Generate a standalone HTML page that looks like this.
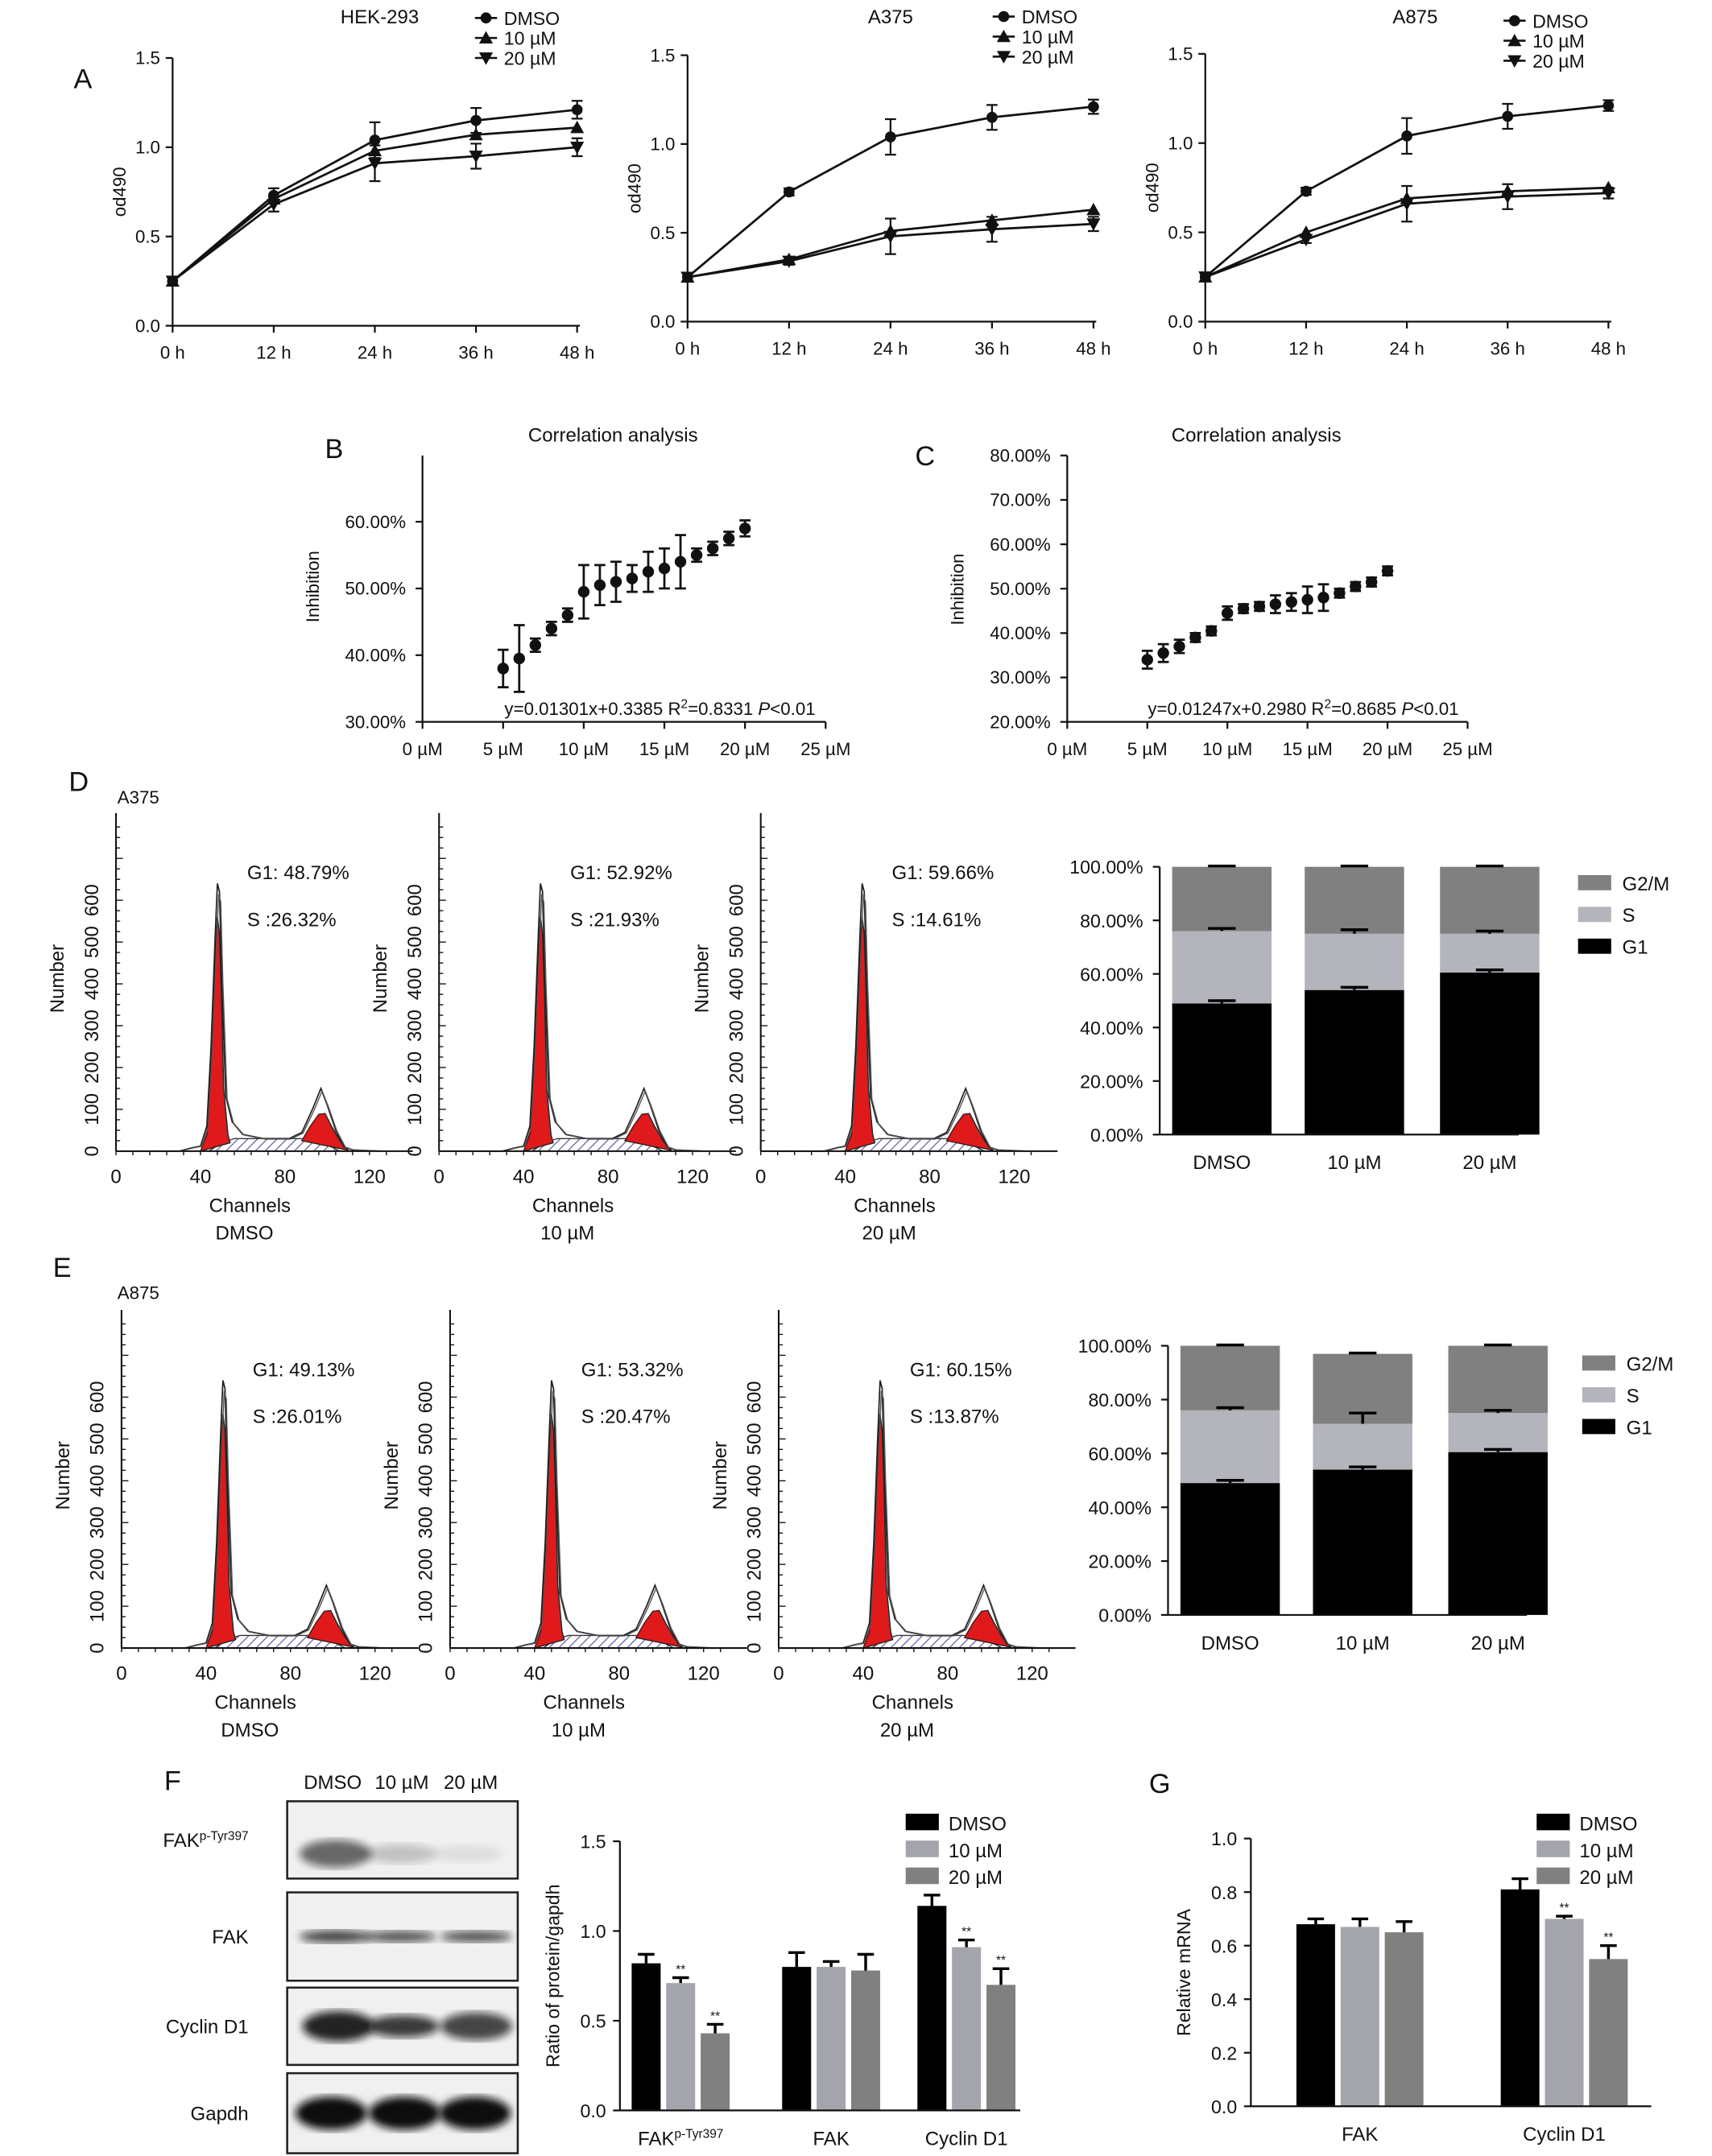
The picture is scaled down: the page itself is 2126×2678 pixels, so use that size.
<!DOCTYPE html>
<html><head><meta charset="utf-8"><style>
html,body{margin:0;padding:0;background:#fff}
svg{display:block;font-family:"Liberation Sans",Arial,sans-serif}
</style></head><body>
<svg id="fig" width="2126" height="2678" viewBox="0 0 1240 1562" xmlns="http://www.w3.org/2000/svg">
<defs>
<pattern id="hatch" width="5" height="5" patternUnits="userSpaceOnUse" patternTransform="rotate(45)"><rect width="5" height="5" fill="#fff"/><line x1="0" y1="0" x2="0" y2="5" stroke="#5a5aa8" stroke-width="1.4"/></pattern>
<filter id="blur"><feGaussianBlur stdDeviation="3"/></filter>
</defs>
</svg>
<script>
// ---------- DATA ----------
const hours = ["0 h","12 h","24 h","36 h","48 h"];
const hekDMSO=[0.25,0.73,1.04,1.15,1.21], hek10=[0.25,0.71,0.98,1.07,1.11], hek20=[0.25,0.68,0.91,0.95,1.00];
const hekErr=[0.02,0.04,0.1,0.07,0.05];
const a375DMSO=[0.25,0.73,1.04,1.15,1.21], a37510=[0.25,0.35,0.51,0.57,0.63], a37520=[0.25,0.34,0.48,0.52,0.55];
const a375Err=[0.02,0.02,0.1,0.07,0.04];
const a875DMSO=[0.25,0.73,1.04,1.15,1.21], a87510=[0.25,0.50,0.69,0.73,0.75], a87520=[0.25,0.46,0.66,0.70,0.72];
const a875Err=[0.02,0.02,0.1,0.07,0.03];
const doses=[5,6,7,8,9,10,11,12,13,14,15,16,17,18,19,20];
const inhibB=[38,39.5,41.5,44,46,49.5,50.5,51,51.5,52.5,53,54,55,56,57.5,59];
const errB=[2.8,5,1,1,1,4,3,3,2,3,3,4,1,1,1,1.2];
const inhibC=[34,35.5,37,39,40.5,44.5,45.5,46,46.5,47,47.5,48,49,50.5,51.5,54];
const errC=[2,2,1.5,1,1,1.5,1,1,2,2,3,3,1,1,1,1];
const histPts=[[0,0],[30,0],[36,8],[40,12],[43,60],[45,250],[47,520],[48,640],[49,620],[50,420],[52,130],[55,70],[60,40],[70,30],[82,30],[88,45],[93,100],[97,150],[100,110],[104,50],[108,10],[112,3],[125,0]];
const g1Red=[[40,0],[43,40],[45,220],[47,480],[48,560],[49,520],[50,360],[51,150],[53,40],[54,20]];
const g2Red=[[88,25],[92,60],[96,88],[99,90],[102,60],[106,25],[110,2]];
const sHatch=[[44,0],[50,20],[56,30],[88,30],[100,15],[106,0]];
const phases=["G1","S","G2/M"];
const treatments=["DMSO","10 µM","20 µM"];
const dG1=[49,54,60.5], dS=[27,21,14.5], dG2=[24,25,25];
const eG1=[49,54,60.5], eS=[27,17,14.5], eG2=[24,26,25];
const fGroups=["FAKp","FAK","Cyclin D1"];
const fDMSO=[0.82,0.80,1.14], f10=[0.71,0.80,0.91], f20=[0.43,0.78,0.70];
const fErrD=[0.05,0.08,0.06], fErr10=[0.03,0.03,0.04], fErr20=[0.05,0.09,0.09];
const gGroups=["FAK","Cyclin D1"];
const gDMSO=[0.68,0.81], g10=[0.67,0.70], g20=[0.65,0.55];
const gErrD=[0.02,0.04], gErr10=[0.03,0.01], gErr20=[0.04,0.05];

// ---------- helpers ----------
const svg=document.getElementById('fig');
const NS="http://www.w3.org/2000/svg";
function nm(e,n,i){
  
  
  return e;
}
function mk(tag,a,p){const e=document.createElementNS(NS,tag);for(const k in a)e.setAttribute(k,a[k]);(p||svg).appendChild(e);return e;}
function txt(x,y,s,size,anchor,extra){const e=mk('text',Object.assign({x:x,y:y,'font-size':size||13,'text-anchor':anchor||'middle',fill:'#111'},extra||{}));e.textContent=s;return e;}
function ln(x1,y1,x2,y2,w,c){return mk('line',{x1,y1,x2,y2,stroke:c||'#111','stroke-width':w||1.3});}
function marker(x,y,t,g){
  let e;
  if(t==0) e=mk('circle',{cx:x,cy:y,r:4,fill:'#111'},g);
  else if(t==1) e=mk('path',{d:`M${x},${y-5}L${x+5},${y+4}L${x-5},${y+4}Z`,fill:'#111'},g);
  else e=mk('path',{d:`M${x},${y+5}L${x+5},${y-4}L${x-5},${y-4}Z`,fill:'#111'},g);
  return e;
}
// panel letters
[['A',60,64],['B',242,332],['C',670,337],['D',57,573],['E',45,925],['F',125,1297],['G',840,1299]].forEach(p=>{const t=txt(p[1],p[2],p[0],20);nm(t,'panel-letter-'+p[0].toLowerCase());});

// ---------- Panel A ----------
function lineChart(cfg){
  const g=mk('g',{});
  nm(g,cfg.name);
  const X=i=>cfg.x0+(cfg.x1-cfg.x0)*i/4;
  const Y=v=>cfg.y0-(cfg.y0-cfg.yTop)*v/1.5;
  ln(cfg.x0,cfg.y0,cfg.x1+2,cfg.y0);ln(cfg.x0,cfg.y0,cfg.x0,cfg.yTop);
  [0,0.5,1,1.5].forEach(v=>{ln(cfg.x0-5,Y(v),cfg.x0,Y(v));const t=txt(cfg.x0-9,Y(v)+4.5,v.toFixed(1),13,'end');nm(t,'y-tick-label');});
  hours.forEach((h,i)=>{ln(X(i),cfg.y0,X(i),cfg.y0+5);const t=txt(X(i),cfg.y0+24,h,13);nm(t,'x-tick-label');});
  const yt=txt(0,0,'od490',13,'middle',{transform:`translate(${cfg.x0-34},${(cfg.y0+cfg.yTop)/2}) rotate(-90)`});nm(yt,'y-axis-title');
  const tt=txt(cfg.tx,17,cfg.title,14);nm(tt,'chart-title');
  cfg.series.forEach((s,k)=>{
    const p=mk('polyline',{points:s.map((v,i)=>X(i)+','+Y(v)).join(' '),fill:'none',stroke:'#111','stroke-width':1.6},g);
    nm(p,'line-'+['dmso','10um','20um'][k]);
    s.forEach((v,i)=>{
      if(k==0||k==cfg.series.length-1){const e=cfg.err[i];const eb=mk('path',{d:`M${X(i)},${Y(v-e)}V${Y(v+e)}M${X(i)-4},${Y(v-e)}h8M${X(i)-4},${Y(v+e)}h8`,stroke:'#111','stroke-width':1.3,fill:'none'},g);nm(eb,'error-bar');}
      const m=marker(X(i),Y(v),k,g);nm(m,'data-point');
    });
  });
  ['DMSO','10 µM','20 µM'].forEach((l,k)=>{
    const ly=cfg.ly+k*14.5;ln(cfg.lx-8,ly,cfg.lx+8,ly,1.5);const m=marker(cfg.lx,ly,k);nm(m,'legend-marker');
    const t=txt(cfg.lx+13,ly+5,l,13.5,'start');nm(t,'legend-entry');
  });
}
lineChart({name:'chart-hek293',x0:125,x1:418,y0:236,yTop:42,title:'HEK-293',tx:275,lx:352,ly:13,series:[hekDMSO,hek10,hek20],err:hekErr});
lineChart({name:'chart-a375',x0:498,x1:792,y0:233,yTop:40,title:'A375',tx:645,lx:727,ly:12,series:[a375DMSO,a37510,a37520],err:a375Err});
lineChart({name:'chart-a875',x0:873,x1:1165,y0:233,yTop:39,title:'A875',tx:1025,lx:1097,ly:15,series:[a875DMSO,a87510,a87520],err:a875Err});

// ---------- Panels B, C ----------
function corr(cfg){
  const g=mk('g',{});nm(g,cfg.name);
  const X=d=>cfg.x0+(cfg.x1-cfg.x0)*d/25;
  const Y=v=>cfg.y0-(cfg.y0-cfg.yT)*(v-cfg.ymin)/(cfg.ymax-cfg.ymin);
  ln(cfg.x0,cfg.y0,cfg.x1,cfg.y0);ln(cfg.x0,cfg.y0,cfg.x0,cfg.yAxTop);
  for(let v=cfg.ymin;v<=cfg.ymax;v+=10){ln(cfg.x0-5,Y(v),cfg.x0,Y(v));const t=txt(cfg.x0-12,Y(v)+4.5,v.toFixed(2)+'%',13,'end');nm(t,'y-tick-label');}
  for(let d=0;d<=25;d+=5){ln(X(d),cfg.y0,X(d),cfg.y0+5);const t=txt(X(d),cfg.y0+24,d+' µM',13);nm(t,'x-tick-label');}
  const yt=txt(0,0,'Inhibition',13,'middle',{transform:`translate(${cfg.x0-75},${cfg.ylabY}) rotate(-90)`});nm(yt,'y-axis-title');
  const tt=txt((cfg.x0+cfg.x1)/2-8,cfg.titleY,'Correlation analysis',14);nm(tt,'chart-title');
  const rl=mk('line',{x1:X(5),y1:Y(100*(cfg.a*5+cfg.b)),x2:X(20),y2:Y(100*(cfg.a*20+cfg.b)),stroke:'#111','stroke-width':1.6},g);nm(rl,'regression-line');
  doses.forEach((d,i)=>{const v=cfg.vals[i],e=cfg.err[i];
    const eb=mk('path',{d:`M${X(d)},${Y(v-e)}V${Y(v+e)}M${X(d)-4},${Y(v-e)}h8M${X(d)-4},${Y(v+e)}h8`,stroke:'#111','stroke-width':1.6,fill:'none'},g);nm(eb,'error-bar');
    const c=mk('circle',{cx:X(d),cy:Y(v),r:4.2,fill:'#111'},g);nm(c,'data-point');});
  const eq=mk('text',{x:cfg.eqX,y:cfg.y0-5,'font-size':13,'text-anchor':'middle',fill:'#111'});nm(eq,'regression-equation');
  eq.innerHTML=cfg.eq+' R<tspan dy="-5" font-size="9">2</tspan><tspan dy="5">='+cfg.r2+' </tspan><tspan font-style="italic">P</tspan>&lt;0.01';
}
corr({name:'chart-correlation-b',x0:306,x1:598,y0:523,yT:378,yAxTop:330,ymin:30,ymax:60,a:1.301,b:33.85,vals:inhibB,err:errB,eq:'y=0.01301x+0.3385',r2:'0.8331',eqX:478,ylabY:425,titleY:320});
corr({name:'chart-correlation-c',x0:773,x1:1063,y0:523,yT:330,yAxTop:330,ymin:20,ymax:80,a:1.247,b:29.80,vals:inhibC,err:errC,eq:'y=0.01247x+0.2980',r2:'0.8685',eqX:944,ylabY:427,titleY:320});

// ---------- Histograms ----------
function hist(cfg){
  const g=mk('g',{});nm(g,cfg.name);
  const X=c=>cfg.x0+c*1.53;
  const Y=n=>cfg.y0-n*0.303;
  const path=(pts)=>'M'+pts.map(p=>X(p[0])+','+Y(p[1])).join('L');
  const h=mk('path',{d:path(sHatch)+'Z',fill:'url(#hatch)',stroke:'#333','stroke-width':0.8},g);nm(h,'s-phase-area');
  const r1=mk('path',{d:path(g1Red)+'Z',fill:'#e0191b',stroke:'#222','stroke-width':0.8},g);nm(r1,'g1-peak');
  const r2=mk('path',{d:path(g2Red)+'Z',fill:'#e0191b',stroke:'#222','stroke-width':0.8},g);nm(r2,'g2-peak');
  const o=mk('path',{d:path(histPts),fill:'none',stroke:'#222','stroke-width':1},g);nm(o,'histogram-outline');
  const o2=mk('path',{d:path(histPts.map(p=>[p[0]+0.6,p[1]*0.96])),fill:'none',stroke:'#555','stroke-width':0.8},g);nm(o2,'histogram-outline');
  ln(cfg.x0,cfg.y0,cfg.x0+215,cfg.y0,1.2);ln(cfg.x0,cfg.y0,cfg.x0,cfg.y0-245,1.2);
  for(let c=0;c<=130;c+=8)ln(X(c),cfg.y0,X(c),cfg.y0+3,0.8);
  for(let n=0;n<=780;n+=25)ln(cfg.x0,Y(n),cfg.x0+(n%100==0?5:3),Y(n),0.8);
  [0,40,80,120].forEach(c=>{const t=txt(X(c),cfg.y0+23,String(c),14);nm(t,'x-tick-label');});
  [0,100,200,300,400,500,600].forEach(n=>{const t=txt(0,0,String(n),14,'middle',{transform:`translate(${cfg.x0-13},${Y(n)}) rotate(-90)`});nm(t,'y-tick-label');});
  const yt=txt(0,0,'Number',14,'middle',{transform:`translate(${cfg.x0-38},${cfg.y0-125}) rotate(-90)`});nm(yt,'y-axis-title');
  const xt=txt(cfg.x0+97,cfg.y0+44,'Channels',14);nm(xt,'x-axis-title');
  const xs=txt(cfg.x0+93,cfg.y0+64,cfg.label,14);nm(xs,'sample-label');
  const a=txt(cfg.x0+95,cfg.y0-197,'G1: '+cfg.g1,14,'start');nm(a,'g1-percentage');
  const b=txt(cfg.x0+95,cfg.y0-163,'S :'+cfg.s,14,'start');nm(b,'s-percentage');
}
hist({name:'histogram-a375-dmso',x0:84,y0:834,label:'DMSO',g1:'48.79%',s:'26.32%'});
hist({name:'histogram-a375-10um',x0:318,y0:834,label:'10 µM',g1:'52.92%',s:'21.93%'});
hist({name:'histogram-a375-20um',x0:551,y0:834,label:'20 µM',g1:'59.66%',s:'14.61%'});
hist({name:'histogram-a875-dmso',x0:88,y0:1194,label:'DMSO',g1:'49.13%',s:'26.01%'});
hist({name:'histogram-a875-10um',x0:326,y0:1194,label:'10 µM',g1:'53.32%',s:'20.47%'});
hist({name:'histogram-a875-20um',x0:564,y0:1194,label:'20 µM',g1:'60.15%',s:'13.87%'});
const la=txt(85,582,'A375',13,'start');nm(la,'cell-line-label');
const lb=txt(85,941,'A875',13,'start');nm(lb,'cell-line-label');

// ---------- Stacked bars ----------
function stacked(cfg){
  const g=mk('g',{});nm(g,cfg.name);
  const Y=v=>cfg.y0-(cfg.y0-cfg.yT)*v/100;
  const cols=['#000','#b4b4bc','#808080'];
  treatments.forEach((t,i)=>{
    const cx=cfg.cx[i];let base=0;
    [cfg.g1[i],cfg.s[i],cfg.g2[i]].forEach((v,k)=>{
      const r=mk('rect',{x:cx-36,y:Y(base+v),width:72,height:Y(base)-Y(base+v),fill:cols[k]},g);nm(r,'bar-'+phases[k].toLowerCase().replace('/','')+'-'+i);base+=v;});
    const s1=cfg.g1[i],s2=cfg.g1[i]+cfg.s[i];
    [[s1,1],[s2,cfg.e2[i]],[base,0.3]].forEach(q=>{const e=mk('path',{d:`M${cx},${Y(q[0])}V${Y(q[0]+q[1])}M${cx-10},${Y(q[0]+q[1])}h20`,stroke:'#000','stroke-width':2},g);nm(e,'error-bar');});
    const l=txt(cx,cfg.y0+25,t,14);nm(l,'x-tick-label');
  });
  ln(cfg.x0,cfg.y0,cfg.x0+260,cfg.y0);ln(cfg.x0,cfg.y0,cfg.x0,cfg.yT);
  for(let v=0;v<=100;v+=20){ln(cfg.x0-5,Y(v),cfg.x0,Y(v));const t=txt(cfg.x0-12,Y(v)+5,v.toFixed(2)+'%',13.5,'end');nm(t,'y-tick-label');}
  ['G2/M','S','G1'].forEach((l,k)=>{const r=mk('rect',{x:cfg.lx,y:cfg.ly+k*23-6,width:24,height:11,fill:[cols[2],cols[1],cols[0]][k]});nm(r,'legend-swatch');const t=txt(cfg.lx+32,cfg.ly+k*23+5,l,14,'start');nm(t,'legend-entry');});
}
stacked({name:'stacked-bar-a375',x0:840,y0:822,yT:628,cx:[885,981,1079],g1:dG1,s:dS,g2:dG2,e2:[1,1.5,1],lx:1143,ly:640});
stacked({name:'stacked-bar-a875',x0:846,y0:1170,yT:975,cx:[891,987,1085],g1:eG1,s:eS,g2:eG2,e2:[1,4,1],lx:1146,ly:988});

// ---------- Blots ----------
const blotRows=[{y:1305,h:56,l:'FAK',sup:'p-Tyr397',b:[[243,0.6,20],[290,0.2,14],[338,0.08,12]]},
 {y:1371,h:64,l:'FAK',b:[[243,0.75,9],[290,0.7,8],[345,0.7,8]]},
 {y:1440,h:56,l:'Cyclin D1',b:[[245,0.9,22],[292,0.8,16],[345,0.75,20]]},
 {y:1502,h:58,l:'Gapdh',b:[[240,1,24],[293,1,24],[344,1,24]]}];
blotRows.forEach((r,i)=>{
  const g=mk('g',{});nm(g,'western-blot-row');
  mk('rect',{x:208,y:r.y,width:167,height:r.h,fill:'#f0f0f0',stroke:'#222','stroke-width':1.5},g);
  r.b.forEach(b=>{const e=mk('ellipse',{cx:b[0],cy:r.y+r.h/2+(i==0?10:0),rx:26,ry:b[2]/2,fill:'#111',opacity:b[1],filter:'url(#blur)'},g);nm(e,'blot-band');});
  const t=mk('text',{x:180,y:r.y+r.h/2+5,'font-size':14,'text-anchor':'end',fill:'#111'});nm(t,'blot-label');
  t.innerHTML=r.l+(r.sup?'<tspan dy="-5" font-size="9">'+r.sup+'</tspan>':'');
});
[['DMSO',241],['10 µM',291],['20 µM',341]].forEach(a=>{const t=txt(a[1],1296,a[0],14);nm(t,'blot-column-label');});

// ---------- Grouped bars ----------
function grouped(cfg){
  const g=mk('g',{});nm(g,cfg.name);
  const Y=v=>cfg.y0-(cfg.y0-cfg.yT)*v/cfg.ymax;
  const cols=['#000','#a4a4ac','#808080'];
  const ser=[cfg.s0,cfg.s10,cfg.s20],err=[cfg.e0,cfg.e10,cfg.e20];
  cfg.groups.forEach((gr,i)=>{
    ser.forEach((s,k)=>{const x=cfg.cx[i]+(k-1)*cfg.step-cfg.bw/2;
      const r=mk('rect',{x:x,y:Y(s[i]),width:cfg.bw,height:Y(0)-Y(s[i]),fill:cols[k]},g);nm(r,'bar-'+k+'-'+i);
      const e=mk('path',{d:`M${x+cfg.bw/2},${Y(s[i])}V${Y(s[i]+err[k][i])}M${x+cfg.bw/2-6},${Y(s[i]+err[k][i])}h12`,stroke:'#000','stroke-width':2},g);nm(e,'error-bar');
      if(cfg.sig[k][i]){const st=txt(x+cfg.bw/2,Y(s[i]+err[k][i])-3,'**',9);nm(st,'significance-mark');}
    });
    const l=mk('text',{x:cfg.cx[i],y:cfg.y0+25,'font-size':14,'text-anchor':'middle',fill:'#111'});nm(l,'x-tick-label');
    l.innerHTML=gr=='FAKp'?'FAK<tspan dy="-5" font-size="9">p-Tyr397</tspan>':gr;
  });
  ln(cfg.x0,cfg.y0,cfg.x0+cfg.axw,cfg.y0);ln(cfg.x0,cfg.y0,cfg.x0,cfg.yT);
  cfg.ticks.forEach(v=>{ln(cfg.x0-5,Y(v),cfg.x0,Y(v));const t=txt(cfg.x0-10,Y(v)+5,v.toFixed(1),13.5,'end');nm(t,'y-tick-label');});
  const yt=txt(0,0,cfg.ylab,13.5,'middle',{transform:`translate(${cfg.x0-44},${(cfg.y0+cfg.yT)/2}) rotate(-90)`});nm(yt,'y-axis-title');
  ['DMSO','10 µM','20 µM'].forEach((l,k)=>{const r=mk('rect',{x:cfg.lx,y:cfg.ly+k*19.5-6,width:24,height:12,fill:cols[k]});nm(r,'legend-swatch');const t=txt(cfg.lx+31,cfg.ly+k*19.5+6,l,14,'start');nm(t,'legend-entry');});
}
grouped({name:'bar-chart-protein',x0:449,y0:1529,yT:1334,ymax:1.5,axw:290,groups:fGroups,cx:[493,602,700],step:25,bw:21,s0:fDMSO,s10:f10,s20:f20,e0:fErrD,e10:fErr10,e20:fErr20,ticks:[0,0.5,1.0,1.5],ylab:'Ratio of protein/gapdh',lx:656,ly:1320,sig:[[0,0,0],[1,0,1],[1,0,1]]});
grouped({name:'bar-chart-mrna',x0:906,y0:1526,yT:1332,ymax:1.0,axw:290,groups:gGroups,cx:[985,1133],step:32,bw:28,s0:gDMSO,s10:g10,s20:g20,e0:gErrD,e10:gErr10,e20:gErr20,ticks:[0,0.2,0.4,0.6,0.8,1.0],ylab:'Relative mRNA',lx:1113,ly:1320,sig:[[0,0],[0,1],[0,1]]});
</script>
</body></html>
